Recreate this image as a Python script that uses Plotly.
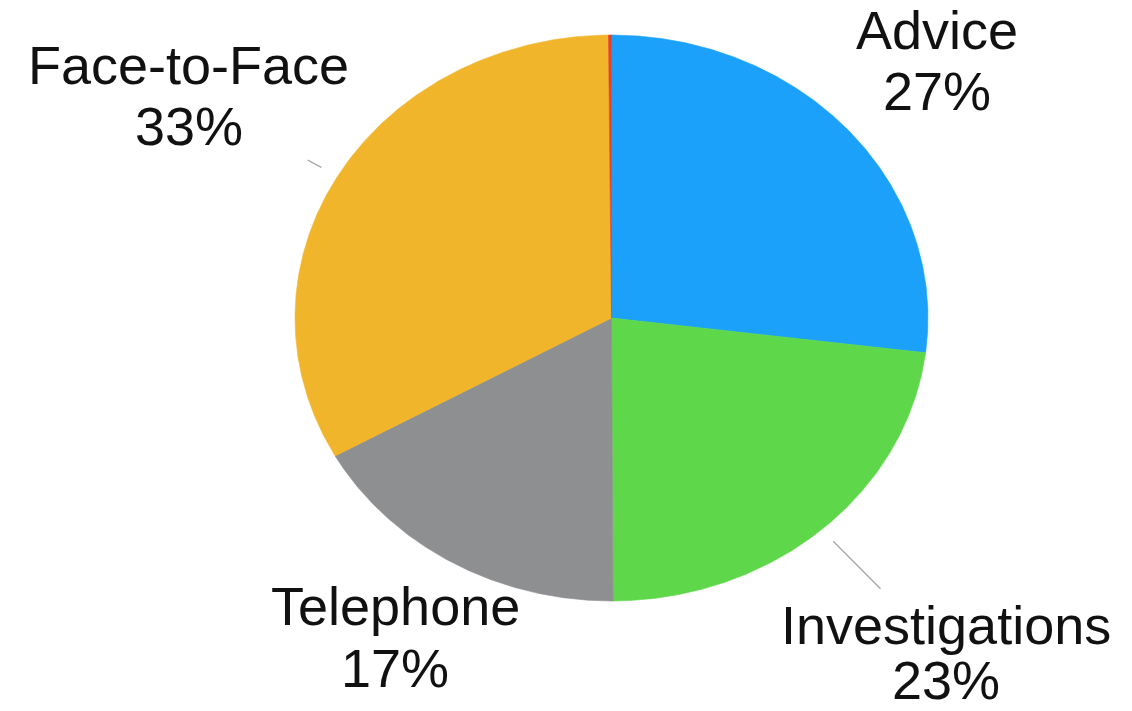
import numpy as np
import plotly.graph_objects as go

# Share of cases by channel (percent), clockwise from 12 o'clock
categories = ["Advice", "Investigations", "Telephone", "Face-to-Face", "Other"]
values = [27, 23, 17, 33, 0.15]
colors = ["#1ba1fa", "#5ed84a", "#8e8f91", "#f1b52c", "#e5412e"]

# Label placement (data units) for the named slices: x, name-line y, value-line y
label_pos = {
    "Advice": (1.028, 1.018, 0.802),
    "Investigations": (1.057, -1.085, -1.279),
    "Telephone": (-0.684, -1.019, -1.235),
    "Face-to-Face": (-1.335, 0.894, 0.678),
}
# Leader lines: radial extent (inner, outer) along the slice mid-angle
leaders = {
    "Face-to-Face": (1.06, 1.11),
    "Investigations": (1.055, 1.28),
}

total = float(sum(values))
fig = go.Figure()

start = 0.0
mid_angle = {}
for name, v, col in zip(categories, values, colors):
    a0 = start / total * 2 * np.pi
    a1 = (start + v) / total * 2 * np.pi
    n = max(int(np.degrees(a1 - a0) * 4), 4)
    t = np.linspace(a0, a1, n)
    xs = np.concatenate([[0.0], np.sin(t), [0.0]])
    ys = np.concatenate([[0.0], np.cos(t), [0.0]])
    fig.add_trace(go.Scatter(
        x=xs, y=ys, mode="lines", fill="toself",
        fillcolor=col, line=dict(color=col, width=0.6),
        hoverinfo="skip", showlegend=False,
    ))
    mid_angle[name] = (a0 + a1) / 2
    start += v

# Leader lines from the rim toward the outside labels
for name, (r0, r1) in leaders.items():
    a = mid_angle[name]
    fig.add_trace(go.Scatter(
        x=[r0 * np.sin(a), r1 * np.sin(a)],
        y=[r0 * np.cos(a), r1 * np.cos(a)],
        mode="lines", line=dict(color="#a9a9a9", width=1.4),
        hoverinfo="skip", showlegend=False,
    ))

font = dict(family="Liberation Sans, Arial, Helvetica, sans-serif", size=54, color="#111111")
for name, v in zip(categories, values):
    if name not in label_pos:
        continue
    x, y_name, y_val = label_pos[name]
    fig.add_annotation(x=x, y=y_name, text=name, showarrow=False,
                       xanchor="center", yanchor="middle", font=font)
    fig.add_annotation(x=x, y=y_val, text=f"{v:g}%", showarrow=False,
                       xanchor="center", yanchor="middle", font=font)

fig.update_xaxes(range=[-1.932, 1.6445], visible=False, fixedrange=True)
fig.update_yaxes(range=[-1.3887, 1.1237], visible=False, fixedrange=True)
fig.update_layout(
    width=1132, height=711,
    margin=dict(l=0, r=0, t=0, b=0),
    paper_bgcolor="white", plot_bgcolor="white",
)

fig.write_html("out.html")
